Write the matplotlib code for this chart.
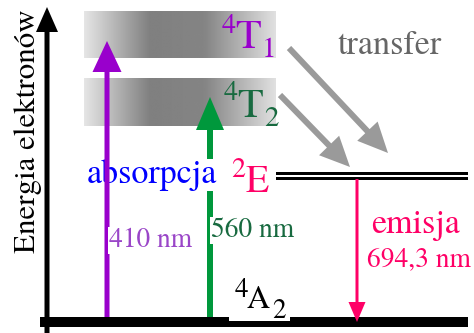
import numpy as np
import matplotlib
matplotlib.use("Agg")
import matplotlib.pyplot as plt
from matplotlib.patches import FancyArrow, Rectangle
from matplotlib import font_manager

# ---- diagram content ----
y_label = "Energia elektronów"
process_labels = ["absorpcja", "emisja", "transfer"]
wavelength_labels = ["410 nm", "560 nm", "694,3 nm"]
# level names: (superscript, letter, subscript)
level_names = {"4T1": ("4", "T", "1"), "4T2": ("4", "T", "2"),
               "2E": ("2", "E", ""), "4A2": ("4", "A", "2")}
# energy levels on the drawing scale (top, bottom)
band_4T1 = (11, 58)
band_4T2 = (78, 126)
level_2E = (173.5, 178.5)
level_4A2 = (317, 327)

# pick an installed Times-like serif
names = {f.name for f in font_manager.fontManager.ttflist}
SERIF = next((n for n in ["TeX Gyre Termes", "FreeSerif", "Liberation Serif",
                          "Nimbus Roman", "DejaVu Serif"] if n in names), "DejaVu Serif")
FAM = [SERIF, "Liberation Serif", "DejaVu Serif"]
plt.rcParams["font.family"] = FAM

W, H = 474, 333
fig = plt.figure(figsize=(W / 100, H / 100), dpi=100)
ax = fig.add_axes([0, 0, 1, 1])
ax.set_xlim(0, W)
ax.set_ylim(H, 0)
ax.axis("off")

px = lambda p: p * 0.72  # pixel -> point

PURPLE = "#9900cc"
PURPLE_L = "#9a46c8"
GREEN = "#00983c"
DGREEN = "#186a40"
BLUE = "#0000ff"
PINK = "#ff0066"
GRAY = "#9a9a9a"

# ---- gradient bands ----
xs = np.linspace(84, 276, 400)
prof = np.interp(xs, [84, 150, 205, 276], [0.9, 0.5, 0.52, 0.88])
for (top, bot) in (band_4T1, band_4T2):
    ax.imshow(prof[None, :], cmap="gray", vmin=0, vmax=1, aspect="auto",
              extent=(84, 276, bot, top), zorder=1, interpolation="bilinear")

# ---- ground level 4A2 ----
ax.add_patch(Rectangle((40, level_4A2[0]), 428, level_4A2[1] - level_4A2[0],
                       color="black", lw=0, zorder=2))
# ---- 2E double line ----
for yy in level_2E:
    ax.add_patch(Rectangle((276, yy - 1.5), 192, 3, color="black", lw=0, zorder=2))

def arrow(x0, y0, x1, y1, w, hw, hl, c, z):
    ax.add_patch(FancyArrow(x0, y0, x1 - x0, y1 - y0, width=w, head_width=hw,
                            head_length=hl, length_includes_head=True,
                            color=c, lw=0, zorder=z))

# energy axis arrow
arrow(47, 333, 47, 7, 5, 22, 25, "black", 3)
# absorption arrows
arrow(107, 317, 107, 41, 5, 29, 31, PURPLE, 6)
arrow(210, 317, 210, 97, 6, 28, 33, GREEN, 4)
# transfer arrows
arrow(289, 48, 388, 153, 6, 28, 30, GRAY, 3)
arrow(280, 95, 350, 167, 6, 28, 30, GRAY, 3)
# emission arrow
arrow(357, 179, 357, 322, 3, 17, 20, PINK, 6)

def txt(x, y, s, size_px, color, z=7, bbox=False, **kw):
    kwargs = dict(fontsize=px(size_px), color=color, family=FAM,
                  ha="left", va="baseline", zorder=z, **kw)
    if bbox:
        kwargs["bbox"] = dict(facecolor="white", edgecolor="none", pad=0.3)
    ax.text(x, y, s, **kwargs)

# process labels
txt(87, 183, process_labels[0], 34, BLUE, z=5, bbox=True)
txt(371, 233, process_labels[1], 34, PINK)
txt(338, 54, process_labels[2], 34, "#666666")
# wavelength labels
txt(109, 247, wavelength_labels[0], 27.5, PURPLE_L, bbox=True)
txt(211, 237, wavelength_labels[1], 27.5, DGREEN, bbox=True)
txt(367, 266, wavelength_labels[2], 27.5, PINK)

# level labels
sup, let, sub = level_names["4T1"]
txt(222, 33, sup, 28, PURPLE)
txt(235, 48, let, 42, PURPLE)
txt(262, 57, sub, 29, PURPLE)
sup, let, sub = level_names["4T2"]
txt(224, 100, sup, 28, DGREEN)
txt(237, 117, let, 42, DGREEN)
txt(264, 126, sub, 29, DGREEN)
sup, let, sub = level_names["2E"]
txt(231, 177, sup, 28, PINK)
txt(246, 192, let, 38, PINK)
sup, let, sub = level_names["4A2"]
ax.add_patch(Rectangle((229, 280), 61, 41, color="white", lw=0, zorder=6))
txt(235, 297, sup, 27, "black")
txt(247, 308, let, 32, "black")
txt(272, 318, sub, 27, "black")

# axis label
ax.text(35, 131, y_label, fontsize=px(31), family=FAM,
        color="black", rotation=90, rotation_mode="anchor",
        ha="center", va="baseline")

fig.savefig("out.png", dpi=100)
